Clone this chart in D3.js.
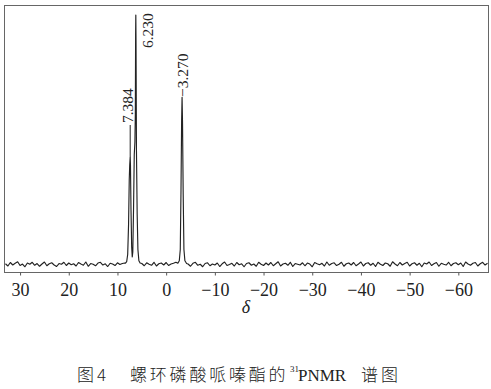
<!DOCTYPE html>
<html>
<head>
<meta charset="utf-8">
<script src="https://cdn.jsdelivr.net/npm/d3@7"></script>
<style>
  body { margin: 0; background: #fff; }
  svg { display: block; }
</style>
</head>
<body>
<svg width="491" height="389"></svg>
<script>
const width = 491;
const height = 389;

// axis ticks (chemical shift, ppm)
const tickValues = [30, 20, 10, 0, -10, -20, -30, -40, -50, -60];

// baseline noise, sampled every 0.5 ppm
const noiseStep = 0.5;
const noiseLeftFrom = 33;
const noiseLeft = [0.3,-0.6,0.8,-0.2,0.5,1.1,-0.4,0.2,-0.9,0.6,0.1,0.9,-0.3,0.4,-0.7,0.2,1.0,-0.5,0.3,0.7,
  -0.2,-0.8,0.4,0.1,0.9,-0.4,0.6,-0.1,0.3,-0.6,0.8,0.2,-0.3,1.0,-0.7,0.4,0.1,-0.5,0.6,0.9,
  -0.2,0.3,-0.8,0.5,0.2,-0.4,0.7,0.0,0.4,0.6];
const noiseMidFrom = 5.0;
const noiseMid = [0.4,-0.5,0.7,0.1,-0.3,0.9,-0.6,0.3,0.6,-0.2,0.8,-0.4,0.2,0.5,0.9];
const noiseRightFrom = -4.5;
const noiseRight = [0.2,-0.7,0.5,0.9,-0.3,0.1,-0.9,0.4,0.7,-0.5,0.2,-0.2,
  0.6,-0.8,0.3,1.0,-0.4,0.0,0.5,-0.6,0.8,-0.1,0.3,-0.9,
  0.4,0.7,-0.3,0.2,-0.7,0.9,0.1,-0.4,0.6,-0.2,0.8,-0.5,
  0.3,1.1,-0.6,0.2,0.5,-0.3,0.9,-0.8,0.4,0.1,-0.2,0.7,
  -0.5,0.6,0.2,-0.9,0.8,0.3,-0.1,0.5,-0.6,1.0,-0.3,0.4,
  0.7,-0.4,0.1,0.9,-0.7,0.3,0.6,-0.2,0.8,-0.5,0.2,1.0,
  -0.6,0.4,0.7,-0.3,0.5,-0.8,0.9,0.1,-0.4,0.6,0.3,-0.7,
  1.1,0.2,-0.5,0.8,-0.2,0.4,0.9,-0.6,0.3,0.7,-0.3,0.5,
  -0.9,0.6,0.2,1.0,-0.4,0.3,0.8,-0.7,0.5,0.1,-0.2,0.9,
  -0.5,0.4,0.7,-0.1,0.6,-0.8,1.0,0.2,-0.3,0.5,0.8,-0.6,
  0.3,0.9,-0.2,0.5];

// peak profiles (shift, relative intensity)
const clusterShift = [8.4, 8.1, 7.9, 7.72, 7.58, 7.48, 7.42, 7.384, 7.33, 7.22, 7.08, 6.96, 6.85, 6.7, 6.55, 6.42, 6.33, 6.27, 6.23, 6.19, 6.1, 5.95, 5.8, 5.6, 5.35];
const clusterInt   = [0.5, 1.2, 4, 16, 34, 40, 42, 43, 40, 22, 7, 3, 5, 22, 44, 49, 60, 92, 100, 90, 46, 20, 6, 1.5, 0.6];
const peakCShift = [-2.4, -2.7, -2.9, -3.05, -3.18, -3.27, -3.36, -3.5, -3.65, -3.85, -4.2];
const peakCInt   = [0.5, 1.5, 6, 30, 58, 67, 57, 28, 6, 1.5, 0.4];

// peak labels
const labelShift = [7.384, 6.230, -3.270];
const labelText = ["7.384", "6.230", "\u22123.270"];

const svg = d3.select('svg');

const x = d3.scaleLinear().domain([33.3, -66.3]).range([4, 489]);
const y = d3.scaleLinear().domain([-3, 104]).range([272, 5]);

// assemble spectrum
let points = [];
noiseLeft.forEach((v, i) => points.push([noiseLeftFrom - i * noiseStep, v]));
clusterShift.forEach((s, i) => points.push([s, clusterInt[i]]));
noiseMid.forEach((v, i) => points.push([noiseMidFrom - i * noiseStep, v]));
peakCShift.forEach((s, i) => points.push([s, peakCInt[i]]));
noiseRight.forEach((v, i) => points.push([noiseRightFrom - i * noiseStep, v]));
points.sort((a, b) => b[0] - a[0]);

svg.append('rect')
  .attr('width', width).attr('height', height).attr('fill', '#fff');

// frame
svg.append('rect')
  .attr('x', 4.5).attr('y', 5.5)
  .attr('width', 484).attr('height', 267)
  .attr('fill', 'none')
  .attr('stroke', '#666')
  .attr('stroke-width', 1);

// axis
const axis = svg.append('g')
  .attr('transform', 'translate(0,272.5)')
  .call(d3.axisBottom(x)
    .tickValues(tickValues)
    .tickSize(3)
    .tickPadding(8)
    .tickFormat(d3.format('d')));
axis.select('.domain').remove();
axis.selectAll('.tick line').attr('stroke', '#555');
axis.selectAll('.tick text')
  .attr('fill', '#222')
  .style('font-family', '"Liberation Serif", "DejaVu Serif", serif')
  .style('font-size', '18px');

svg.append('text')
  .attr('x', 246).attr('y', 313)
  .attr('text-anchor', 'middle')
  .style('font-family', '"Liberation Serif", "DejaVu Serif", serif')
  .style('font-style', 'italic')
  .style('font-size', '18px')
  .attr('fill', '#222')
  .text('δ');

// spectrum
svg.append('path')
  .datum(points)
  .attr('d', d3.line().x(d => x(d[0])).y(d => y(d[1])))
  .attr('fill', 'none')
  .attr('stroke', '#222')
  .attr('stroke-width', 1.15)
  .attr('stroke-linejoin', 'round');

// peak labels
const labelX = [127.5, 148, 183];
const labelEndY = [123, 48, 97];
labelText.forEach((t, i) => {
  svg.append('text')
    .attr('transform', `translate(${labelX[i]},${labelEndY[i]}) rotate(-90)`)
    .attr('dy', '0.35em')
    .style('font-family', '"Liberation Serif", "DejaVu Serif", serif')
    .style('font-size', '15.5px')
    .attr('fill', '#222')
    .text(t);
});
// leader for 7.384
svg.append('line')
  .attr('x1', x(labelShift[0])).attr('x2', x(labelShift[0]))
  .attr('y1', 125).attr('y2', y(43))
  .attr('stroke', '#222').attr('stroke-width', 1);

// caption
const cap = svg.append('g').attr('fill', '#222');
const cjk = '"Noto Sans CJK SC", sans-serif';
const serif = '"Liberation Serif", serif';
cap.append('text').attr('x', 77).attr('y', 381)
  .style('font-family', cjk).style('font-size', '17px').style('font-weight', 300).text('图');
cap.append('text').attr('x', 97).attr('y', 381)
  .style('font-family', cjk).style('font-size', '17px').style('font-weight', 300).text('4');
cap.append('text').attr('x', 130).attr('y', 381)
  .style('font-family', cjk).style('font-size', '17px').style('font-weight', 300)
  .style('letter-spacing', '2.8px').text('螺环磷酸哌嗪酯的');
cap.append('text').attr('x', 290).attr('y', 372)
  .style('font-family', serif).style('font-size', '9px').text('31');
cap.append('text').attr('x', 298).attr('y', 381)
  .style('font-family', serif).style('font-size', '17px').text('PNMR');
cap.append('text').attr('x', 361).attr('y', 381)
  .style('font-family', cjk).style('font-size', '17px').style('font-weight', 300)
  .style('letter-spacing', '3px').text('谱图');
</script>
</body>
</html>
